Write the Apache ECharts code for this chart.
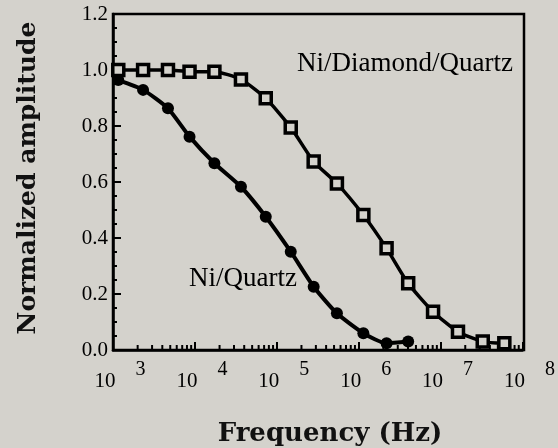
<!DOCTYPE html>
<html>
<head>
<meta charset="utf-8">
<script src="https://cdn.jsdelivr.net/npm/echarts@6/dist/echarts.min.js"></script>
<style>
  html, body { margin: 0; padding: 0; background: #d4d2cc; }
  #chart { width: 558px; height: 448px; }
</style>
</head>
<body>
<div id="chart"></div>
<script>
// frequency grid shared by both curves (Hz)
const freqHz = [1.16e3, 2.33e3, 4.69e3, 8.6e3, 1.73e4, 3.65e4, 7.33e4, 1.48e5, 2.82e5,
  5.42e5, 1.14e6, 2.19e6, 4.02e6, 8.09e6, 1.63e7, 3.27e7, 6.0e7]
const niQuartz = [0.964, 0.929, 0.863, 0.762, 0.667, 0.583, 0.476, 0.351, 0.226,
  0.131, 0.06, 0.024, 0.03]
const niDiamondQuartz = [1.0, 1.0, 1.0, 0.994, 0.994, 0.966, 0.899, 0.795, 0.673,
  0.595, 0.482, 0.363, 0.238, 0.137, 0.065, 0.03, 0.024]
const yTicks = [0, 0.2, 0.4, 0.6, 0.8, 1.0, 1.2]
const xDecades = [1e3, 1e4, 1e5, 1e6, 1e7, 1e8]
// log minor ticks 2..9 in each decade
const xMinor = []
xDecades.slice(0, -1).forEach(d => {
  for (let k = 2; k <= 9; k++) xMinor.push(d * k)
})

const bg = '#d4d2cc'
const serif = 'Liberation Serif'

const myChart = echarts.init(document.getElementById('chart'))
const option = {
  backgroundColor: bg,
  animation: false,
  grid: {
    left: 113,
    right: 34,
    top: 14,
    bottom: 98
  },
  xAxis: {
    type: 'log',
    logBase: 10,
    min: xDecades[0],
    max: xDecades[xDecades.length - 1],
    splitLine: { show: false },
    axisLine: {
      onZero: false,
      lineStyle: { color: '#000', width: 2.5 }
    },
    axisTick: {
      inside: true,
      length: 8,
      lineStyle: { color: '#000', width: 2 }
    },
    axisLabel: {
      margin: 10,
      showMaxLabel: true,
      formatter: v => '{b|10}{s|' + Math.round(Math.log10(v)) + '}',
      rich: {
        b: {
          fontFamily: serif,
          fontSize: 21,
          color: '#000',
          lineHeight: 20,
          padding: [11, 0, 0, 14],
          verticalAlign: 'top'
        },
        s: {
          fontFamily: serif,
          fontSize: 20,
          color: '#000',
          lineHeight: 14,
          padding: [0, 0, 0, 20],
          verticalAlign: 'top'
        }
      }
    }
  },
  yAxis: {
    type: 'value',
    min: yTicks[0],
    max: yTicks[yTicks.length - 1],
    interval: 0.2,
    splitLine: { show: false },
    axisLine: {
      show: true,
      lineStyle: { color: '#000', width: 2.5 }
    },
    axisTick: {
      inside: true,
      length: 8,
      lineStyle: { color: '#000', width: 2 }
    },
    minorTick: {
      show: true,
      splitNumber: 4,
      length: 4,
      lineStyle: { color: '#000', width: 2 }
    },
    axisLabel: {
      margin: 5,
      fontFamily: serif,
      fontSize: 21,
      color: '#000',
      formatter: v => v.toFixed(1)
    }
  },
  graphic: [
    {
      type: 'rect',
      shape: { x: 113, y: 14, width: 411, height: 336 },
      style: { fill: 'none', stroke: '#000', lineWidth: 2.5 },
      z: 0
    },
    {
      type: 'text',
      x: 297,
      y: 64,
      style: {
        text: 'Ni/Diamond/Quartz',
        font: '27px "Liberation Serif"',
        fill: '#000',
        verticalAlign: 'middle'
      }
    },
    {
      type: 'text',
      x: 189,
      y: 279,
      style: {
        text: 'Ni/Quartz',
        font: '27px "Liberation Serif"',
        fill: '#000',
        verticalAlign: 'middle'
      }
    },
    {
      type: 'text',
      x: 28,
      y: 178,
      rotation: Math.PI / 2,
      style: {
        text: 'Normalized amplitude',
        font: 'bold 25px "DejaVu Serif"',
        fill: '#111',
        align: 'center',
        verticalAlign: 'middle'
      }
    },
    {
      type: 'text',
      x: 330,
      y: 434,
      style: {
        text: 'Frequency (Hz)',
        font: 'bold 26px "DejaVu Serif"',
        fill: '#111',
        align: 'center',
        verticalAlign: 'middle'
      }
    }
  ],
  series: [
    {
      name: 'Ni/Quartz',
      type: 'line',
      data: niQuartz.map((v, i) => [freqHz[i], v]),
      smooth: 0.2,
      symbol: 'circle',
      symbolSize: 12,
      lineStyle: { color: '#000', width: 4 },
      itemStyle: { color: '#000' },
      z: 3
    },
    {
      name: 'Ni/Diamond/Quartz',
      type: 'line',
      data: niDiamondQuartz.map((v, i) => [freqHz[i], v]),
      smooth: 0.2,
      symbol: 'rect',
      symbolSize: 11,
      lineStyle: { color: '#000', width: 3.5 },
      itemStyle: { color: bg, borderColor: '#000', borderWidth: 3.5 },
      z: 4
    },
    {
      // minor ticks of the log axis
      type: 'custom',
      silent: true,
      clip: false,
      data: xMinor.map(f => [f, 0]),
      renderItem: (params, api) => {
        const p = api.coord([api.value(0), 0])
        return {
          type: 'line',
          shape: { x1: p[0], y1: p[1], x2: p[0], y2: p[1] - 5 },
          style: { stroke: '#000', lineWidth: 2 }
        }
      },
      z: 2
    }
  ]
}
myChart.setOption(option)
</script>
</body>
</html>
